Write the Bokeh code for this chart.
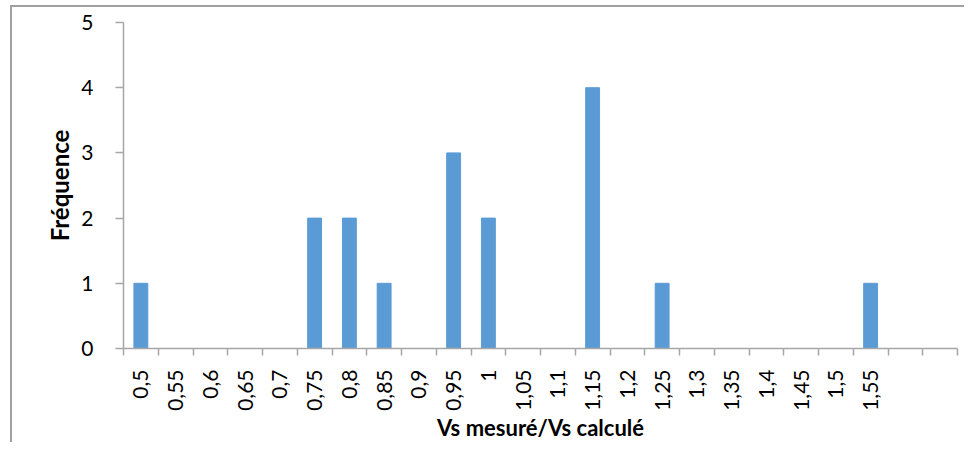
import math
from bokeh.plotting import figure
from bokeh.models import Range1d, FixedTicker, ColumnDataSource
from bokeh.embed import file_html
from bokeh.resources import INLINE

categories = ["0,5", "0,55", "0,6", "0,65", "0,7", "0,75", "0,8", "0,85", "0,9", "0,95",
              "1", "1,05", "1,1", "1,15", "1,2", "1,25", "1,3", "1,35", "1,4", "1,45",
              "1,5", "1,55", "", ""]
frequencies = [1, 0, 0, 0, 0, 2, 2, 1, 0, 3, 2, 0, 0, 4, 0, 1, 0, 0, 0, 0, 0, 1, 0, 0]
y_ticks = [0, 1, 2, 3, 4, 5]
x_title = "Vs mesuré/Vs calculé"
y_title = "Fréquence"

n = len(categories)
centers = [i + 0.5 for i in range(n)]
source = ColumnDataSource(dict(x=centers, top=frequencies))

FONT = "Lato"
AXIS_COLOR = "#a6a6a6"

W, H = 954, 437
ML, MR, MT, MB = 111, 9, 15, 96

p = figure(width=W, height=H, output_backend="svg", toolbar_location=None,
           x_range=Range1d(0, n), y_range=Range1d(0, 5),
           min_border_left=ML, min_border_right=MR, min_border_top=MT, min_border_bottom=MB)
p.outline_line_color = None
p.xgrid.visible = False
p.ygrid.visible = False
p.styles = {"border-left": "2px solid #a0a0a0", "border-top": "2px solid #a0a0a0",
            "position": "relative", "left": "10px", "top": "5px"}

p.vbar(x="x", top="top", width=0.4, bottom=0, source=source,
       fill_color="#5B9BD5", line_color="#5B9BD5")

xa = p.xaxis[0]
xa.ticker = FixedTicker(ticks=centers, minor_ticks=list(range(n + 1)))
xa.major_label_overrides = {c: lab for c, lab in zip(centers, categories)}
xa.major_label_orientation = math.pi / 2
xa.major_tick_out = 0
xa.major_tick_in = 0
xa.minor_tick_out = 7
xa.minor_tick_in = 0
xa.minor_tick_line_color = AXIS_COLOR
xa.axis_line_color = AXIS_COLOR
xa.axis_line_width = 1.5
xa.minor_tick_line_width = 1.5
xa.major_label_text_font = FONT
xa.major_label_text_font_size = "21px"
xa.major_label_text_color = "#000000"
xa.major_label_standoff = 14
xa.axis_label = x_title
xa.axis_label_text_font = FONT
xa.axis_label_text_font_size = "22px"
xa.axis_label_text_font_style = "bold"
xa.axis_label_text_color = "#000000"
xa.axis_label_text_line_height = 0.75
xa.axis_label_standoff = 0

ya = p.yaxis[0]
ya.ticker = FixedTicker(ticks=y_ticks)
ya.minor_tick_line_color = None
ya.major_tick_out = 8
ya.major_tick_in = 0
ya.major_tick_line_color = AXIS_COLOR
ya.major_tick_line_width = 1.5
ya.axis_line_color = AXIS_COLOR
ya.axis_line_width = 1.5
ya.major_label_text_font = FONT
ya.major_label_text_font_size = "21px"
ya.major_label_text_color = "#000000"
ya.major_label_standoff = 22
ya.axis_label = y_title
ya.axis_label_text_font = FONT
ya.axis_label_text_font_size = "24px"
ya.axis_label_text_font_style = "bold"
ya.axis_label_text_color = "#000000"
ya.axis_label_standoff = 4

open("out.html", "w").write(file_html(p, INLINE))
